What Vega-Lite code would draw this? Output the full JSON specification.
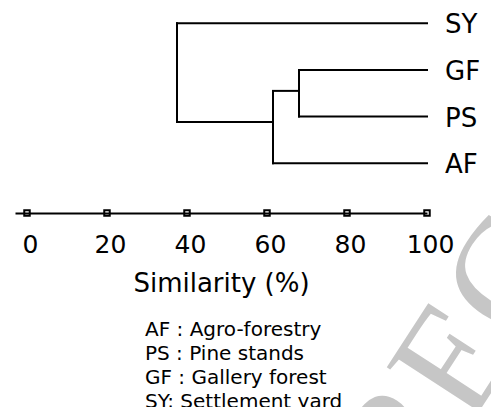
{
  "$schema": "https://vega.github.io/schema/vega-lite/v6.json",
  "width": 412,
  "height": 213,
  "autosize": {"type": "none"},
  "padding": {"left": 15, "top": 0, "right": 64, "bottom": 194},
  "background": "white",
  "config": {"view": {"stroke": null}, "font": "DejaVu Sans"},
  "datasets": {
    "segments": [
      {"x": 37.5, "x2": 100, "y": 1, "y2": 1},
      {"x": 68, "x2": 100, "y": 2, "y2": 2},
      {"x": 68, "x2": 100, "y": 3, "y2": 3},
      {"x": 61.5, "x2": 100, "y": 4, "y2": 4},
      {"x": 68, "x2": 68, "y": 2, "y2": 3},
      {"x": 61.5, "x2": 68, "y": 2.45, "y2": 2.45},
      {"x": 61.5, "x2": 61.5, "y": 2.45, "y2": 4},
      {"x": 37.5, "x2": 61.5, "y": 3.12, "y2": 3.12},
      {"x": 37.5, "x2": 37.5, "y": 1, "y2": 3.12}
    ],
    "leaves": [
      {"label": "SY", "y": 1, "x": 100},
      {"label": "GF", "y": 2, "x": 100},
      {"label": "PS", "y": 3, "x": 100},
      {"label": "AF", "y": 4, "x": 100}
    ],
    "ticks": [
      {"x": 0}, {"x": 20}, {"x": 40}, {"x": 60}, {"x": 80}, {"x": 100}
    ],
    "watermark": [
      {"text": "CORRECTED", "x": 106, "y": 8.4}
    ],
    "keytext": [
      {"entry": "AF : Agro-forestry|PS : Pine stands|GF : Gallery forest|SY:  Settlement yard"}
    ]
  },
  "layer": [
    {
      "encoding": {
        "x": {
          "field": "x",
          "type": "quantitative",
          "scale": {"domain": [-3, 100], "nice": false, "zero": false},
          "axis": {
            "values": [0, 20, 40, 60, 80, 100],
            "grid": false,
            "ticks": false,
            "domainColor": "black",
            "domainWidth": 2,
            "labelFont": "DejaVu Sans",
            "labelFontSize": 25,
            "labelColor": "black",
            "labelBaseline": "alphabetic",
            "labelPadding": 39,
            "labelOffset": 3,
            "labelFlush": false,
            "title": "Similarity (%)",
            "titleFont": "DejaVu Sans",
            "titleFontSize": 26,
            "titleFontWeight": "normal",
            "titleColor": "black",
            "titlePadding": 13
          }
        },
        "y": {"field": "y", "type": "quantitative", "axis": null, "scale": {"domain": [0.5, 5.07], "nice": false, "zero": false, "reverse": true}}
      },
      "layer": [
        {
          "data": {"name": "watermark"},
          "mark": {"type": "text", "align": "center", "baseline": "middle", "angle": -57, "fontSize": 155, "font": "Liberation Serif", "color": "#c6c6c6"},
          "encoding": {
            "text": {"field": "text"}
          }
        },
        {
          "data": {"name": "segments"},
          "mark": {"type": "rule", "color": "black", "strokeWidth": 2, "strokeCap": "square"},
          "encoding": {
            "x2": {"field": "x2"},
            "y2": {"field": "y2"}
          }
        },
        {
          "data": {"name": "ticks"},
          "mark": {"type": "point", "shape": "square", "filled": false, "stroke": "black", "strokeWidth": 2, "size": 30, "opacity": 1},
          "encoding": {
            "y": {"value": "height"}
          }
        },
        {
          "data": {"name": "leaves"},
          "mark": {"type": "text", "align": "left", "baseline": "middle", "dx": 18, "dy": 2, "fontSize": 26, "font": "DejaVu Sans", "color": "black"},
          "encoding": {
            "text": {"field": "label"}
          }
        }
      ]
    },
    {
      "data": {"name": "keytext"},
      "mark": {"type": "text", "align": "left", "baseline": "alphabetic", "lineBreak": "|", "lineHeight": 24, "fontSize": 20, "font": "DejaVu Sans", "color": "black"},
      "encoding": {
        "x": {
          "datum": 29.5,
          "type": "quantitative",
          "axis": {
            "values": [0, 20, 40, 60, 80, 100],
            "grid": false,
            "ticks": false,
            "domainColor": "black",
            "domainWidth": 2,
            "labelFont": "DejaVu Sans",
            "labelFontSize": 25,
            "labelColor": "black",
            "labelBaseline": "alphabetic",
            "labelPadding": 39,
            "labelOffset": 3,
            "labelFlush": false,
            "title": "Similarity (%)",
            "titleFont": "DejaVu Sans",
            "titleFontSize": 26,
            "titleFontWeight": "normal",
            "titleColor": "black",
            "titlePadding": 13
          }
        },
        "y": {"datum": 7.71, "type": "quantitative", "axis": null},
        "text": {"field": "entry"}
      }
    }
  ]
}
